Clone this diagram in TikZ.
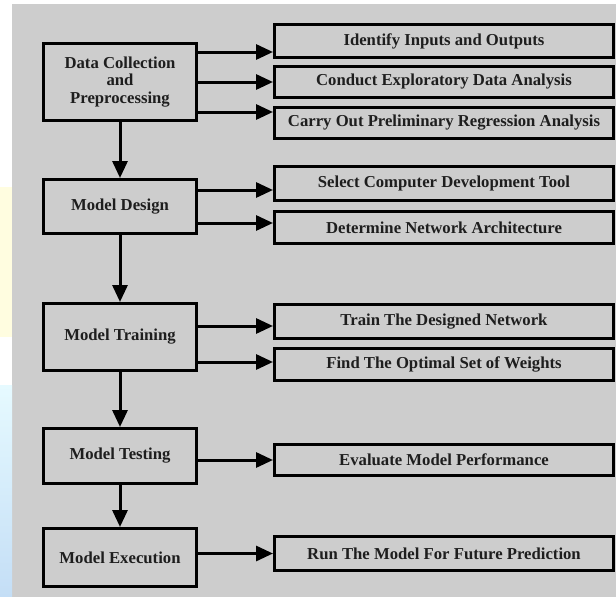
\documentclass[tikz,border=0pt]{standalone}
\usepackage{fontspec}
\setmainfont{Liberation Serif}
\usetikzlibrary{arrows.meta}
\definecolor{bggrey}{HTML}{CDCDCD}
\definecolor{txt}{HTML}{1E1E1E}
\definecolor{paleyel}{HTML}{FFFDE0}
\definecolor{paleblueA}{HTML}{E6FAFF}
\definecolor{paleblueB}{HTML}{C4DEF6}
\tikzset{
  lbox/.style={draw=black, line width=3pt, fill=bggrey, minimum width=153pt, inner sep=0pt,
    align=center, font=\fontsize{16.7}{17.5}\selectfont\bfseries, text=txt},
  rbox/.style={draw=black, line width=3pt, fill=bggrey, minimum width=339pt, inner sep=0pt,
    align=center, font=\fontsize{16.7}{17.5}\selectfont\bfseries, text=txt},
  arr/.style={line width=3pt, -{Triangle[length=17pt,width=15pt]}}
}
\begin{document}
\begin{tikzpicture}[x=1pt,y=-1pt]
\useasboundingbox (0,0) rectangle (616,597);
% background
\fill[white] (0,0) rectangle (616,597);
\fill[bggrey] (12,4) rectangle (616,597);
\fill[paleyel] (0,187) rectangle (12,337);
\shade[top color=paleblueA, bottom color=paleblueB] (0,385) rectangle (12,597);
% left boxes
\node[lbox, minimum height=77pt] (dc) at (120,82) {Data Collection\\and\\Preprocessing};
\node[lbox, minimum height=54pt] (md) at (120,206.5) {Model Design};
\node[lbox, minimum height=67pt] (mt) at (120,337) {Model Training};
\node[lbox, minimum height=55pt] (mte) at (120,456) {Model Testing};
\node[lbox, minimum height=58pt] (mx) at (120,557.5) {Model Execution};
\foreach \n in {dc,md,mt,mte,mx}
  \draw[line width=2.5pt] ([xshift=2pt]\n.north west) -- ([xshift=2pt]\n.south west);
% right boxes
\node[rbox, minimum height=33pt] (r1) at (444,41) {Identify Inputs and Outputs};
\node[rbox, minimum height=31pt] (r2) at (444,82) {Conduct Exploratory Data Analysis};
\node[rbox, minimum height=31pt] (r3) at (444,123) {Carry Out Preliminary Regression Analysis};
\node[rbox, minimum height=34pt] (r4) at (444,183.5) {Select Computer Development Tool};
\node[rbox, minimum height=32pt] (r5) at (444,227.5) {Determine Network Architecture};
\node[rbox, minimum height=34pt] (r6) at (444,321.5) {Train The Designed Network};
\node[rbox, minimum height=32pt] (r7) at (444,364.5) {Find The Optimal Set of Weights};
\node[rbox, minimum height=31pt] (r8) at (444,460) {Evaluate Model Performance};
\node[rbox, minimum height=34pt] (r9) at (444,553.5) {Run The Model For Future Prediction};
% vertical arrows
\draw[arr] (dc.south) -- (md.north);
\draw[arr] (md.south) -- (mt.north);
\draw[arr] (mt.south) -- (mte.north);
\draw[arr] (mte.south) -- (mx.north);
% horizontal arrows
\draw[arr] ([yshift=30pt]dc.east) -- ([yshift=30pt]dc.east -| r1.west);
\draw[arr] (dc.east) -- (dc.east -| r2.west);
\draw[arr] ([yshift=-30pt]dc.east) -- ([yshift=-30pt]dc.east -| r3.west);
\draw[arr] ([yshift=16.5pt]md.east) -- ([yshift=16.5pt]md.east -| r4.west);
\draw[arr] ([yshift=-16.5pt]md.east) -- ([yshift=-16.5pt]md.east -| r5.west);
\draw[arr] ([yshift=11pt]mt.east) -- ([yshift=11pt]mt.east -| r6.west);
\draw[arr] ([yshift=-25pt]mt.east) -- ([yshift=-25pt]mt.east -| r7.west);
\draw[arr] (mte.east |- r8.west) -- (r8.west);
\draw[arr] (mx.east |- r9.west) -- (r9.west);
\end{tikzpicture}
\end{document}
